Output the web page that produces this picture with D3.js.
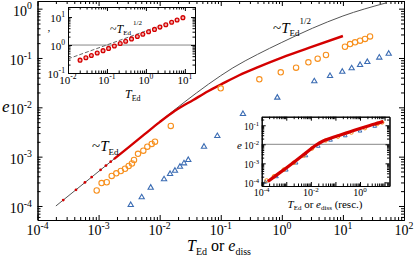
<!DOCTYPE html>
<html>
<head>
<meta charset="utf-8">
<script src="https://cdn.jsdelivr.net/npm/d3@7"></script>
<style>
body { margin: 0; background: #fff; }
text { font-family: "Liberation Serif", "DejaVu Serif", serif; fill: #000; }
</style>
</head>
<body>
<script>
// ---- main panel data ----
// gray guide curve (~T_Ed then ~T_Ed^1/2)
const guideT = [2.0e-4, 3.16e-3, 0.0251, 0.0631, 0.158, 0.398, 1, 3.16, 10, 50]
const guideE = [1.0e-4, 1.58e-3, 0.0126, 0.0295, 0.0631, 0.118, 0.207, 0.40, 0.71, 1.3]

// red series, sparse part (single dots) and dense part (looks like a thick line)
const redDotT = [2.64e-4, 4.27e-4, 5.98e-4, 7.71e-4, 1.08e-3, 1.32e-3, 1.58e-3]
const redDotE = [1.32e-4, 2.13e-4, 3.0e-4, 3.86e-4, 5.4e-4, 6.6e-4, 7.9e-4]
const redLineT = [1.78e-3, 3.16e-3, 5.62e-3, 0.01, 0.0178, 0.0355, 0.0631, 0.1, 0.2, 0.398, 1, 3.16, 10]
const redLineE = [8.91e-4, 1.58e-3, 2.82e-3, 5.01e-3, 8.51e-3, 0.0141, 0.0214, 0.0288, 0.0447, 0.0646, 0.102, 0.17, 0.279]

// orange circles
const orangeT = [9.31e-4, 1.12e-3, 1.36e-3, 1.64e-3, 1.95e-3, 2.31e-3, 2.71e-3, 3.11e-3, 3.52e-3, 3.80e-3,
  4.42e-3, 5.40e-3, 6.28e-3, 7.41e-3, 8.39e-3, 0.0152, 0.0998, 0.428, 0.96, 1.71, 2.72, 3.86, 5.28,
  10.8, 13.1, 15.8, 19.1, 23.0, 27.8]
const orangeE = [2.06e-4, 2.92e-4, 3.03e-4, 4.06e-4, 4.60e-4, 5.12e-4, 5.68e-4, 6.47e-4, 7.26e-4, 8.55e-4,
  1.14e-3, 1.32e-3, 1.59e-3, 1.81e-3, 2.01e-3, 4.19e-3, 0.0243, 0.0370, 0.0513, 0.0635, 0.0818, 0.0968, 0.115,
  0.169, 0.191, 0.208, 0.224, 0.243, 0.273]

// blue triangles
const blueT = [3.36e-3, 5.08e-3, 7.13e-3, 0.0118, 0.0148, 0.0178, 0.0215, 0.0250, 0.0294, 0.0532, 0.0879,
  0.231, 0.843, 3.40, 6.15, 9.77, 13.9, 19.1, 25.1, 39.4, 56.2]
const blueE = [1.05e-4, 1.50e-4, 2.35e-4, 3.48e-4, 4.45e-4, 5.19e-4, 6.25e-4, 7.33e-4, 8.55e-4, 1.59e-3, 2.62e-3,
  7.33e-3, 0.0157, 0.0337, 0.0432, 0.0527, 0.0618, 0.0721, 0.0830, 0.102, 0.122]

// ---- upper-left inset ----
const inT = [0.0204, 0.0288, 0.0398, 0.0562, 0.0794, 0.110, 0.155, 0.219, 0.302, 0.427,
  0.603, 0.832, 1.17, 1.66, 2.29, 3.24, 4.57, 6.31, 8.91]
const inV = [0.288, 0.352, 0.424, 0.517, 0.631, 0.759, 0.927, 1.13, 1.36, 1.66,
  2.02, 2.44, 2.98, 3.63, 4.37, 5.33, 6.50, 7.83, 9.55]
const inDashT = [0.01, 10]
const inDashV = [0.32, 10.1]

// ---- lower-right inset (rescaled) ----
const rsRedT = [1.78e-4, 3.98e-4, 1e-3, 2.51e-3, 6.31e-3, 0.0158, 0.0316, 0.0631, 0.158, 0.398, 1, 2.51, 6.31, 8.91]
const rsRedE = [1.12e-4, 2.40e-4, 5.75e-4, 1.41e-3, 3.55e-3, 8.91e-3, 0.0148, 0.0209, 0.0309, 0.0457, 0.0676, 0.0977, 0.138, 0.158]
const rsOrT = [1.58e-4, 3.16e-4, 7.94e-4, 2.0e-3, 5.01e-3, 0.0112, 0.0398, 0.126, 0.447, 1.58, 5.01, 7.94]
const rsOrE = [1.26e-4, 2.09e-4, 4.68e-4, 1.07e-3, 2.51e-3, 6.03e-3, 0.0158, 0.0251, 0.0417, 0.0708, 0.117, 0.141]
const rsBlT = [1.41e-4, 3.98e-4, 1e-3, 2.51e-3, 6.31e-3, 0.02, 0.0631, 0.251, 1.0, 3.98]
const rsBlE = [1.05e-4, 2.0e-4, 4.47e-4, 1.05e-3, 2.51e-3, 7.94e-3, 0.0166, 0.0282, 0.0501, 0.0891]

const RED = '#d40000', ORANGE = '#f7901e', BLUE = '#3b6cb3', GRAY = '#555'

const svg = d3.select('body').append('svg')
    .attr('width', 415)
    .attr('height', 259)

// tick values of a log axis: [majors, minors]
function decades(lo, hi) {
  const maj = [], min = []
  for (let p = Math.floor(Math.log10(lo)); p <= Math.ceil(Math.log10(hi)); p++) {
    for (let k = 1; k < 10; k++) {
      const v = k * Math.pow(10, p)
      if (v < lo * 0.999 || v > hi * 1.001) continue
      if (k === 1) maj.push(v); else min.push(v)
    }
  }
  return [maj, min]
}

// closed frame with inward ticks on all four sides
function box(g, x, y, big, small) {
  const [x0, x1] = x.range(), [yb, yt] = y.range()
  const [xM, xm] = decades(...x.domain()), [yM, ym] = decades(...y.domain())
  const add = (axis, tr, vals, len) => g.append('g')
      .attr('transform', tr)
      .call(axis.tickValues(vals).tickSize(-len).tickSizeOuter(0).tickFormat(''))
  for (const [vals, len] of [[xM, big], [xm, small]]) {
    add(d3.axisBottom(x), `translate(0,${yb})`, vals, len)
    add(d3.axisTop(x), `translate(0,${yt})`, vals, len)
  }
  for (const [vals, len] of [[yM, big], [ym, small]]) {
    add(d3.axisLeft(y), `translate(${x0},0)`, vals, len)
    add(d3.axisRight(y), `translate(${x1},0)`, vals, len)
  }
  g.selectAll('.domain, .tick line').attr('stroke', '#000').attr('stroke-width', 1)
}

// "10" with a superscript exponent
function powLabel(g, px, py, exp, fs, anchor) {
  const t = g.append('text').attr('x', px).attr('y', py)
      .attr('font-size', fs).attr('text-anchor', anchor)
  t.append('tspan').text('10')
  t.append('tspan').attr('dy', -fs * 0.45).attr('font-size', fs * 0.7).text(exp)
}

const pts = (a, b) => a.map((v, i) => [v, b[i]])

// ================= main panel =================
const x = d3.scaleLog().domain([1e-4, 1e2]).range([37.5, 404])
const y = d3.scaleLog().domain([Math.pow(10, -4.284), Math.pow(10, 0.155)]).range([220, 1])

svg.append('clipPath').attr('id', 'mainclip')
  .append('rect').attr('x', 37.5).attr('y', 1).attr('width', 366.5).attr('height', 219)

const main = svg.append('g').attr('clip-path', 'url(#mainclip)')
const line = d3.line().x(d => x(d[0])).y(d => y(d[1])).curve(d3.curveMonotoneX)

main.append('path')
    .attr('d', line(pts(guideT, guideE)))
    .attr('fill', 'none')
    .attr('stroke', GRAY)
    .attr('stroke-width', 1)

main.append('path')
    .attr('d', line(pts(redLineT, redLineE)))
    .attr('fill', 'none')
    .attr('stroke', RED)
    .attr('stroke-width', 2.4)

main.selectAll('.rdot')
  .data(pts(redDotT, redDotE))
  .enter()
  .append('circle')
    .attr('cx', d => x(d[0]))
    .attr('cy', d => y(d[1]))
    .attr('r', 1.4)
    .attr('fill', RED)

main.selectAll('.orng')
  .data(pts(orangeT, orangeE))
  .enter()
  .append('circle')
    .attr('cx', d => x(d[0]))
    .attr('cy', d => y(d[1]))
    .attr('r', 2.7)
    .attr('fill', 'none')
    .attr('stroke', ORANGE)
    .attr('stroke-width', 1.1)

const tri = d3.symbol(d3.symbolTriangle)
main.selectAll('.blu')
  .data(pts(blueT, blueE))
  .enter()
  .append('path')
    .attr('d', tri.size(12)())
    .attr('transform', d => `translate(${x(d[0])},${y(d[1])})`)
    .attr('fill', 'none')
    .attr('stroke', BLUE)
    .attr('stroke-width', 1.1)

box(svg.append('g'), x, y, 5, 3)

// main tick labels
decades(...x.domain())[0].forEach(v => powLabel(svg, x(v), 235, Math.round(Math.log10(v)), 14, 'middle'))
decades(...y.domain())[0].forEach(v => powLabel(svg, 32, y(v) + 7, Math.round(Math.log10(v)), 14, 'end'))

// axis titles
const xt = svg.append('text').attr('x', 187).attr('y', 251).attr('font-size', 16)
xt.append('tspan').attr('font-style', 'italic').text('T')
xt.append('tspan').attr('font-size', 10).attr('dy', 4).text('Ed')
xt.append('tspan').attr('dy', -4).text(' or ')
xt.append('tspan').attr('font-style', 'italic').text('e')
xt.append('tspan').attr('font-size', 10).attr('dy', 4).text('diss')

svg.append('text').attr('x', 2).attr('y', 112).attr('font-size', 17)
    .attr('font-style', 'italic').text('e')

// power-law annotations
const a1 = svg.append('text').attr('x', 92).attr('y', 151).attr('font-size', 15).attr('fill', '#333')
a1.append('tspan').text('~')
a1.append('tspan').attr('font-style', 'italic').text('T')
a1.append('tspan').attr('font-size', 9).attr('dy', 4).text('Ed')

const a2 = svg.append('text').attr('x', 273).attr('y', 33).attr('font-size', 15).attr('fill', '#333')
a2.append('tspan').text('~')
a2.append('tspan').attr('font-style', 'italic').text('T')
a2.append('tspan').attr('font-size', 9).attr('dy', 3).text('Ed')
a2.append('tspan').attr('font-size', 9).attr('dx', 0).attr('dy', -12).text('1/2')

// ================= upper-left inset =================
const ix = d3.scaleLog().domain([0.01, Math.pow(10, 1.26)]).range([68, 195])
const iy = d3.scaleLog().domain([0.1, Math.pow(10, 1.36)]).range([73, 7])
const ins1 = svg.append('g')
ins1.append('rect').attr('x', 68).attr('y', 7).attr('width', 127).attr('height', 66).attr('fill', '#fff')

ins1.append('line')
    .attr('x1', ix.range()[0]).attr('x2', ix.range()[1])
    .attr('y1', iy(1)).attr('y2', iy(1))
    .attr('stroke', '#888').attr('stroke-width', 1)

const iline = d3.line().x(d => ix(d[0])).y(d => iy(d[1]))
ins1.append('path')
    .attr('d', iline(pts(inDashT, inDashV)))
    .attr('fill', 'none')
    .attr('stroke', '#666')
    .attr('stroke-width', 1)
    .attr('stroke-dasharray', '4,2')

ins1.selectAll('.ip')
  .data(pts(inT, inV))
  .enter()
  .append('circle')
    .attr('cx', d => ix(d[0]))
    .attr('cy', d => iy(d[1]))
    .attr('r', 1.9)
    .attr('fill', '#f4b0b0')
    .attr('stroke', RED)
    .attr('stroke-width', 1.3)

box(ins1, ix, iy, 4, 2.5)
decades(...ix.domain())[0].forEach(v => powLabel(ins1, ix(v), 84, Math.round(Math.log10(v)), 11, 'middle'))
decades(...iy.domain())[0].forEach(v => powLabel(ins1, 65, iy(v) + 5, Math.round(Math.log10(v)), 11, 'end'))

const t1 = ins1.append('text').attr('x', 125).attr('y', 98).attr('font-size', 12)
t1.append('tspan').attr('font-style', 'italic').text('T')
t1.append('tspan').attr('font-size', 8).attr('dy', 3).text('Ed')
ins1.append('text').attr('x', 47).attr('y', 37).attr('font-size', 11).text('\u2019')

const a3 = ins1.append('text').attr('x', 110).attr('y', 33).attr('font-size', 12).attr('fill', '#333')
a3.append('tspan').text('~')
a3.append('tspan').attr('font-style', 'italic').text('T')
a3.append('tspan').attr('font-size', 7).attr('dy', 2).text('Ed')
a3.append('tspan').attr('font-size', 7).attr('dx', 2).attr('dy', -10).text('1/2')

// ================= lower-right inset =================
const jx = d3.scaleLog().domain([1e-4, Math.pow(10, 1.2)]).range([261.7, 389.5])
const jy = d3.scaleLog().domain([Math.pow(10, -4.19), Math.pow(10, -0.55)]).range([186, 116.7])
const ins2 = svg.append('g')
ins2.append('rect').attr('x', 261.7).attr('y', 116.7).attr('width', 127.8).attr('height', 69.3).attr('fill', '#fff')

ins2.append('line')
    .attr('x1', jx.range()[0]).attr('x2', jx.range()[1])
    .attr('y1', jy(0.01)).attr('y2', jy(0.01))
    .attr('stroke', '#888').attr('stroke-width', 1)

const jline = d3.line().x(d => jx(d[0])).y(d => jy(d[1])).curve(d3.curveMonotoneX)
ins2.selectAll('.jb')
  .data(pts(rsBlT, rsBlE))
  .enter()
  .append('path')
    .attr('d', tri.size(6)())
    .attr('transform', d => `translate(${jx(d[0])},${jy(d[1])})`)
    .attr('fill', 'none')
    .attr('stroke', BLUE)
    .attr('stroke-width', 1)

ins2.selectAll('.jo')
  .data(pts(rsOrT, rsOrE))
  .enter()
  .append('circle')
    .attr('cx', d => jx(d[0]))
    .attr('cy', d => jy(d[1]))
    .attr('r', 1.8)
    .attr('fill', 'none')
    .attr('stroke', ORANGE)
    .attr('stroke-width', 1)

ins2.append('path')
    .attr('d', jline(pts(rsRedT, rsRedE)))
    .attr('fill', 'none')
    .attr('stroke', RED)
    .attr('stroke-width', 3.2)

box(ins2, jx, jy, 4, 2.5)
;[1e-4, 1e-2, 1].forEach(v => powLabel(ins2, jx(v), 196, Math.round(Math.log10(v)), 10, 'middle'))
decades(...jy.domain())[0].forEach(v => powLabel(ins2, 259, jy(v) + 5, Math.round(Math.log10(v)), 9.5, 'end'))

const t2 = ins2.append('text').attr('x', 325).attr('y', 208).attr('font-size', 11).attr('text-anchor', 'middle')
t2.append('tspan').attr('font-style', 'italic').text('T')
t2.append('tspan').attr('font-size', 7).attr('dy', 2).text('Ed')
t2.append('tspan').attr('dy', -2).text(' or ')
t2.append('tspan').attr('font-style', 'italic').text('e')
t2.append('tspan').attr('font-size', 7).attr('dy', 2).text('diss')
t2.append('tspan').attr('dy', -2).text(' (resc.)')

ins2.append('text').attr('x', 237).attr('y', 149).attr('font-size', 11)
    .attr('font-style', 'italic').text('e')
</script>
</body>
</html>
